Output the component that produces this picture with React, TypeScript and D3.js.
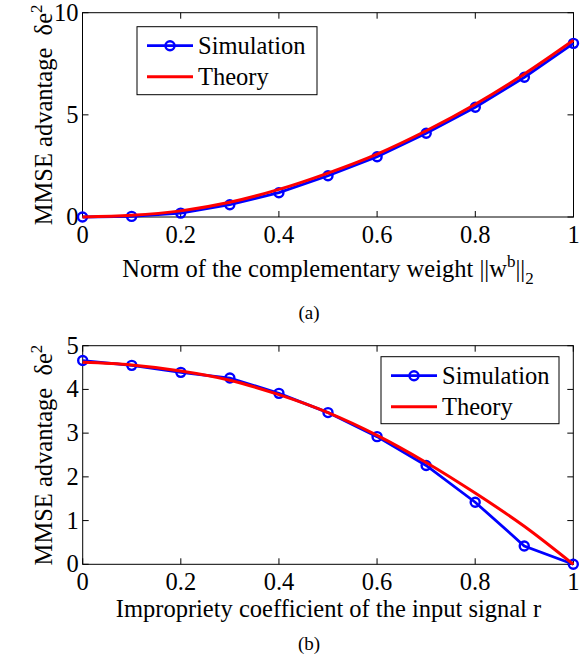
import React, {useEffect, useRef} from 'react';
import * as d3 from 'd3';

// x positions shared by both panels
const xValues = [0, 0.1, 0.2, 0.3, 0.4, 0.5, 0.6, 0.7, 0.8, 0.9, 1];

// panel (a): MMSE advantage vs norm of complementary weight
const simA = [0, 0.03, 0.19, 0.6, 1.19, 2.02, 2.95, 4.1, 5.37, 6.84, 8.5];
const theoryA = [0, 0.08, 0.3, 0.72, 1.35, 2.15, 3.08, 4.22, 5.52, 7.0, 8.65];

// panel (b): MMSE advantage vs impropriety coefficient
const simB = [4.66, 4.55, 4.39, 4.26, 3.91, 3.47, 2.92, 2.26, 1.42, 0.42, 0];
const theoryB = [4.62, 4.56, 4.42, 4.21, 3.88, 3.47, 2.95, 2.33, 1.63, 0.87, 0];

const xTicks = [0, 0.2, 0.4, 0.6, 0.8, 1];
const yTicksA = [0, 5, 10];
const yTicksB = [0, 1, 2, 3, 4, 5];

const FONT = '"Liberation Serif", "Times New Roman", serif';
const FS = '24.5px';
const FS_SMALL = '17px';

function drawPanel(svg, p) {
    const x = d3.scaleLinear().domain([0, 1]).range([p.left, p.right]);
    const y = d3.scaleLinear().domain(p.yDomain).range([p.bottom, p.top]);
    const g = svg.append('g');
    const tick = 6;

    // frame
    g.append('rect')
        .attr('x', p.left).attr('y', p.top)
        .attr('width', p.right - p.left).attr('height', p.bottom - p.top)
        .attr('fill', 'none').attr('stroke', '#000').attr('stroke-width', 1);

    // inward ticks on all four sides
    xTicks.forEach(t => {
        g.append('line').attr('x1', x(t)).attr('x2', x(t)).attr('y1', p.bottom).attr('y2', p.bottom - tick).attr('stroke', '#000');
        g.append('line').attr('x1', x(t)).attr('x2', x(t)).attr('y1', p.top).attr('y2', p.top + tick).attr('stroke', '#000');
        g.append('text')
            .attr('x', x(t)).attr('y', p.bottom + 25.5)
            .attr('text-anchor', 'middle')
            .style('font-family', FONT).style('font-size', FS)
            .text(String(t));
    });
    p.yTicks.forEach(t => {
        g.append('line').attr('x1', p.left).attr('x2', p.left + tick).attr('y1', y(t)).attr('y2', y(t)).attr('stroke', '#000');
        g.append('line').attr('x1', p.right).attr('x2', p.right - tick).attr('y1', y(t)).attr('y2', y(t)).attr('stroke', '#000');
        g.append('text')
            .attr('x', p.left - 4).attr('y', y(t) + 8)
            .attr('text-anchor', 'end')
            .style('font-family', FONT).style('font-size', FS)
            .text(String(t));
    });

    const lineLin = d3.line().x((d, i) => x(xValues[i])).y(d => y(d));
    const lineSmooth = d3.line().x((d, i) => x(xValues[i])).y(d => y(d)).curve(d3.curveMonotoneX);

    g.append('path').attr('d', lineLin(p.sim))
        .attr('fill', 'none').attr('stroke', '#0000ff').attr('stroke-width', 2.8);
    g.selectAll('.marker').data(p.sim).enter().append('circle')
        .attr('cx', (d, i) => x(xValues[i])).attr('cy', d => y(d)).attr('r', 4.5)
        .attr('fill', 'none').attr('stroke', '#0000ff').attr('stroke-width', 2.4);
    g.append('path').attr('d', lineSmooth(p.theory))
        .attr('fill', 'none').attr('stroke', '#ff0000').attr('stroke-width', 3);

    // legend
    const L = p.legend;
    g.append('rect').attr('x', L.x).attr('y', L.y).attr('width', L.w).attr('height', L.h)
        .attr('fill', '#fff').attr('stroke', '#000').attr('stroke-width', 1);
    const ly1 = L.y + 19, ly2 = L.y + 50;
    g.append('line').attr('x1', L.x + 10).attr('x2', L.x + 56).attr('y1', ly1).attr('y2', ly1)
        .attr('stroke', '#0000ff').attr('stroke-width', 2.8);
    g.append('circle').attr('cx', L.x + 33).attr('cy', ly1).attr('r', 4.5)
        .attr('fill', 'none').attr('stroke', '#0000ff').attr('stroke-width', 2.4);
    g.append('line').attr('x1', L.x + 10).attr('x2', L.x + 56).attr('y1', ly2).attr('y2', ly2)
        .attr('stroke', '#ff0000').attr('stroke-width', 3);
    g.append('text').attr('x', L.x + 61).attr('y', ly1 + 8)
        .style('font-family', FONT).style('font-size', FS).text('Simulation');
    g.append('text').attr('x', L.x + 61).attr('y', ly2 + 8)
        .style('font-family', FONT).style('font-size', FS).text('Theory');

    // y label
    const yl = g.append('text')
        .attr('transform', `translate(52,${(p.top + p.bottom) / 2}) rotate(-90)`)
        .attr('text-anchor', 'middle')
        .style('font-family', FONT).style('font-size', FS)
        .style('white-space', 'pre');
    yl.append('tspan').text('MMSE advantage  δe');
    yl.append('tspan').attr('dy', -10).style('font-size', FS_SMALL).text('2');

    // x label
    const xl = g.append('text')
        .attr('x', p.xLabelX).attr('y', p.bottom + p.xLabelDy)
        .attr('text-anchor', 'middle')
        .style('font-family', FONT).style('font-size', FS);
    p.xLabel(xl);

    g.append('text').attr('x', 309).attr('y', p.captionY)
        .attr('text-anchor', 'middle')
        .style('font-family', FONT).style('font-size', '19px')
        .text(p.caption);
}

export default function App() {
    const ref = useRef(null);

    useEffect(() => {
        const svg = d3.select(ref.current);
        svg.selectAll('*').remove();

        drawPanel(svg, {
            left: 82.5, right: 573.5, top: 12.7, bottom: 217,
            yDomain: [0, 10], yTicks: yTicksA,
            sim: simA, theory: theoryA,
            legend: {x: 137, y: 26.7, w: 180, h: 68},
            xLabelX: 328, xLabelDy: 60,
            xLabel: t => {
                t.append('tspan').text('Norm of the complementary weight ||w');
                t.append('tspan').attr('dy', -10).style('font-size', FS_SMALL).text('b');
                t.append('tspan').attr('dy', 10).text('||');
                t.append('tspan').attr('dy', 7).style('font-size', FS_SMALL).text('2');
            },
            caption: '(a)', captionY: 319
        });

        drawPanel(svg, {
            left: 82.7, right: 573.3, top: 345.7, bottom: 564.3,
            yDomain: [0, 5], yTicks: yTicksB,
            sim: simB, theory: theoryB,
            legend: {x: 381, y: 356.7, w: 178, h: 67},
            xLabelX: 328.5, xLabelDy: 53,
            xLabel: t => t.text('Impropriety coefficient of the input signal r'),
            caption: '(b)', captionY: 650
        });
    }, []);

    return (
        <svg ref={ref} width={583} height={658}
             style={{position: 'absolute', left: 0, top: 0, background: '#fff'}} />
    );
}
